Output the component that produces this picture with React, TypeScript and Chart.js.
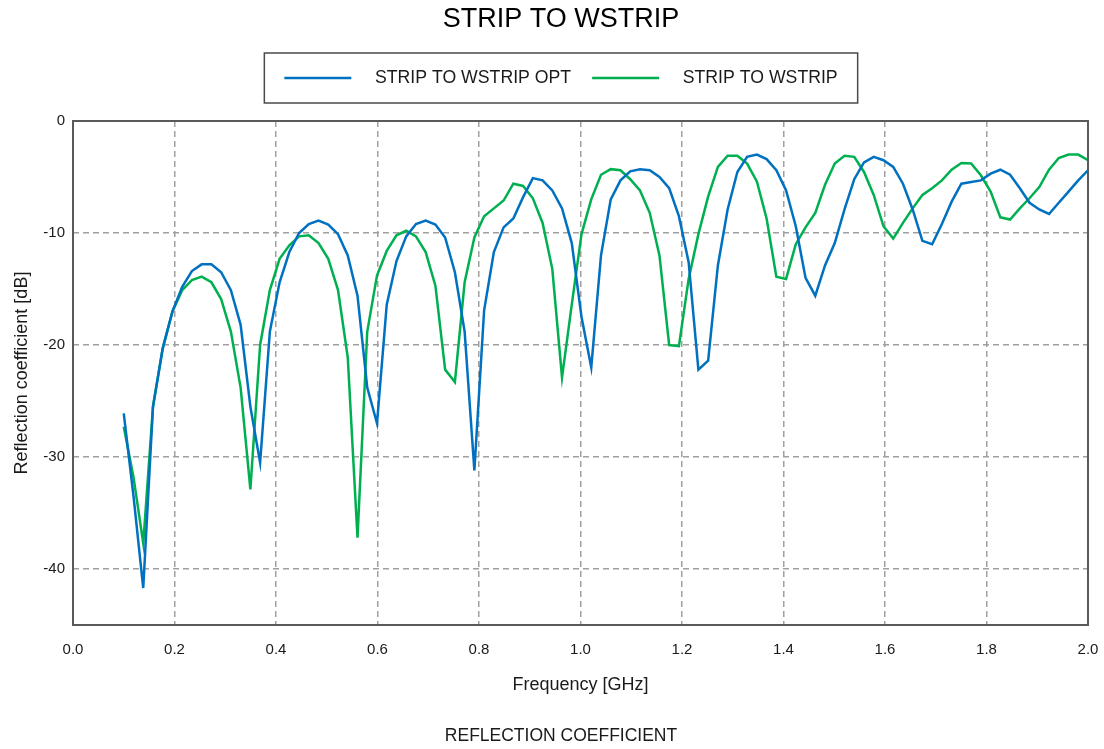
import { useEffect, useRef } from 'react';
import { Chart, registerables } from 'chart.js';

Chart.register(...registerables);

// Frequency sample grid (GHz)
const freqGHz = [
  0.1000, 0.1192, 0.1384, 0.1576, 0.1768, 0.1960, 0.2152, 0.2343, 0.2535, 0.2727,
  0.2919, 0.3111, 0.3303, 0.3495, 0.3687, 0.3879, 0.4071, 0.4263, 0.4455, 0.4646,
  0.4838, 0.5030, 0.5222, 0.5414, 0.5606, 0.5798, 0.5990, 0.6182, 0.6374, 0.6566,
  0.6758, 0.6949, 0.7141, 0.7333, 0.7525, 0.7717, 0.7909, 0.8101, 0.8293, 0.8485,
  0.8677, 0.8869, 0.9061, 0.9253, 0.9444, 0.9636, 0.9828, 1.0020, 1.0212, 1.0404,
  1.0596, 1.0788, 1.0980, 1.1172, 1.1364, 1.1556, 1.1747, 1.1939, 1.2131, 1.2323,
  1.2515, 1.2707, 1.2899, 1.3091, 1.3283, 1.3475, 1.3667, 1.3859, 1.4051, 1.4242,
  1.4434, 1.4626, 1.4818, 1.5010, 1.5202, 1.5394, 1.5586, 1.5778, 1.5970, 1.6162,
  1.6354, 1.6545, 1.6737, 1.6929, 1.7121, 1.7313, 1.7505, 1.7697, 1.7889, 1.8081,
  1.8273, 1.8465, 1.8657, 1.8848, 1.9040, 1.9232, 1.9424, 1.9616, 1.9808, 2.0000,
];

// STRIP TO WSTRIP OPT (dB)
const s11Opt = [
  -26.1, -33.5, -41.7, -25.5, -20.3, -17.0, -14.8, -13.4, -12.8, -12.8,
  -13.5, -15.1, -18.2, -25.5, -30.5, -18.8, -14.4, -11.7, -10.0, -9.2,
  -8.9, -9.25, -10.1, -12.0, -15.6, -23.8, -27.0, -16.4, -12.5, -10.3,
  -9.2, -8.9, -9.25, -10.4, -13.5, -18.8, -31.2, -16.9, -11.7, -9.5,
  -8.7, -6.8, -5.1, -5.3, -6.2, -7.8, -10.9, -17.5, -22.0, -12.0,
  -7.0, -5.3, -4.5, -4.3, -4.4, -5.0, -6.0, -8.5, -12.6, -22.2,
  -21.4, -12.9, -7.9, -4.55, -3.2, -3.0, -3.4, -4.4, -6.2, -9.4,
  -14.0, -15.6, -12.9, -10.9, -7.9, -5.2, -3.7, -3.2, -3.5, -4.1,
  -5.6, -7.9, -10.7, -11.0, -9.2, -7.2, -5.6, -5.45, -5.3, -4.7,
  -4.35, -4.8, -6.0, -7.3, -7.9, -8.3, -7.3, -6.3, -5.3, -4.4,
];

// STRIP TO WSTRIP (dB)
const s11 = [
  -27.3, -31.8, -37.7, -25.5, -20.3, -17.0, -15.1, -14.2, -13.9, -14.4,
  -15.9, -18.8, -23.8, -32.9, -20.0, -15.1, -12.3, -11.1, -10.3, -10.2,
  -10.9, -12.3, -15.1, -21.1, -37.2, -18.8, -13.8, -11.6, -10.2, -9.8,
  -10.3, -11.7, -14.7, -22.2, -23.3, -14.4, -10.4, -8.5, -7.8, -7.1,
  -5.6, -5.8, -6.9, -9.1, -13.2, -22.9, -16.4, -10.1, -7.0, -4.8,
  -4.3, -4.4, -5.2, -6.2, -8.2, -12.0, -20.0, -20.1, -14.1, -10.1,
  -6.75, -4.1, -3.1, -3.1, -3.8, -5.4, -8.7, -13.9, -14.1, -11.0,
  -9.5, -8.2, -5.7, -3.8, -3.1, -3.2, -4.55, -6.6, -9.4, -10.5,
  -9.1, -7.8, -6.6, -6.0, -5.3, -4.35, -3.75, -3.8, -4.85, -6.3,
  -8.6, -8.8, -7.8, -6.9, -5.9, -4.35, -3.3, -3.0, -3.0, -3.5,
];

const xTickValues = [0, 0.2, 0.4, 0.6, 0.8, 1.0, 1.2, 1.4, 1.6, 1.8, 2.0];
const yTickValues = [0, -10, -20, -30, -40];
const seriesLabels = ['STRIP TO WSTRIP OPT', 'STRIP TO WSTRIP'];
const seriesColors = ['#0070C0', '#00B050'];

const FONT = "'Liberation Sans', Arial, Helvetica, sans-serif";
const TEXT = '#1a1a1a';

const legendFrame = {
  id: 'legendFrame',
  afterDraw(chart: any) {
    const lg = chart.legend;
    if (!lg || !lg.legendHitBoxes || !lg.legendHitBoxes.length) return;
    const hb = lg.legendHitBoxes;
    const first = hb[0];
    const last = hb[hb.length - 1];
    const cy = first.top + first.height / 2;
    const left = first.left - 20;
    const right = last.left + last.width + 20;
    const ctx = chart.ctx;
    ctx.save();
    ctx.strokeStyle = '#4a4a4a';
    ctx.lineWidth = 1.5;
    ctx.strokeRect(left, cy - 25, right - left, 50);
    ctx.restore();
  },
};

const plotFrame = {
  id: 'plotFrame',
  afterDraw(chart: any) {
    const a = chart.chartArea;
    const ctx = chart.ctx;
    ctx.save();
    ctx.strokeStyle = '#5a5a5a';
    ctx.lineWidth = 2;
    ctx.strokeRect(a.left, a.top, a.right - a.left, a.bottom - a.top);
    ctx.restore();
  },
};

export default function App() {
  const ref = useRef<HTMLCanvasElement | null>(null);

  useEffect(() => {
    if (!ref.current) return;
    const chart = new Chart(ref.current, {
      type: 'line',
      data: {
        datasets: [
          {
            label: seriesLabels[0],
            data: freqGHz.map((f, i) => ({ x: f, y: s11Opt[i] })),
            borderColor: seriesColors[0],
            backgroundColor: seriesColors[0],
            borderWidth: 2.5,
            pointRadius: 0,
            tension: 0,
          },
          {
            label: seriesLabels[1],
            data: freqGHz.map((f, i) => ({ x: f, y: s11[i] })),
            borderColor: seriesColors[1],
            backgroundColor: seriesColors[1],
            borderWidth: 2.5,
            pointRadius: 0,
            tension: 0,
          },
        ],
      },
      options: {
        responsive: false,
        animation: false,
        devicePixelRatio: 1,
        layout: { padding: { left: 34, right: 16, top: 0, bottom: 0 } },
        plugins: {
          title: {
            display: true,
            text: 'STRIP TO WSTRIP',
            color: '#000',
            font: { family: FONT, size: 27, weight: 'normal' },
            padding: { top: 3, bottom: 12.75 },
          },
          subtitle: {
            display: true,
            text: 'REFLECTION COEFFICIENT',
            position: 'bottom',
            color: TEXT,
            font: { family: FONT, size: 17.5, weight: 'normal' },
            padding: { top: 29.7, bottom: 2 },
          },
          legend: {
            display: true,
            position: 'top',
            labels: {
              color: TEXT,
              font: { family: FONT, size: 17.7 },
              boxWidth: 67,
              boxHeight: 2.5,
              padding: 21,
              generateLabels(chart: any) {
                const items = (Chart.defaults as any).plugins.legend.labels.generateLabels(chart);
                return items.map((it: any) => ({
                  ...it,
                  text: '   ' + it.text,
                  fillStyle: it.strokeStyle,
                  lineWidth: 0,
                }));
              },
            },
          },
          tooltip: { enabled: false },
        },
        scales: {
          x: {
            type: 'linear',
            min: 0,
            max: 2,
            afterBuildTicks(axis: any) {
              axis.ticks = xTickValues.map((v) => ({ value: v }));
            },
            ticks: {
              color: TEXT,
              font: { family: FONT, size: 15 },
              padding: 4,
              maxRotation: 0,
              callback: (v: any) => Number(v).toFixed(1),
            },
            grid: {
              color: '#a0a0a0',
              lineWidth: 1.5,
              drawTicks: true,
              tickLength: 12,
              tickWidth: 0,
              tickColor: 'rgba(0,0,0,0)',
            },
            border: { display: false, dash: [6, 4] },
            title: {
              display: true,
              text: 'Frequency [GHz]',
              color: TEXT,
              font: { family: FONT, size: 18 },
              padding: { top: 11.7, bottom: 0 },
            },
          },
          xTop: {
            type: 'linear',
            position: 'top',
            display: true,
            grid: { display: false, drawTicks: false },
            border: { display: false },
            ticks: { display: false },
            afterFit(s: any) {
              s.height = 24.15;
            },
          },
          y: {
            type: 'linear',
            min: -45,
            max: 0,
            afterBuildTicks(axis: any) {
              axis.ticks = yTickValues.map((v) => ({ value: v }));
            },
            afterFit(s: any) {
              s.width = 39;
            },
            ticks: {
              color: TEXT,
              font: { family: FONT, size: 15 },
              padding: 8,
              callback: (v: any) => String(v),
            },
            grid: { color: '#a0a0a0', lineWidth: 1.5, drawTicks: false },
            border: { display: false, dash: [6, 4] },
            title: {
              display: true,
              text: 'Reflection coefficient [dB]',
              color: TEXT,
              font: { family: FONT, size: 18 },
              padding: { top: -22.8, bottom: 0 },
            },
          },
        },
      } as any,
      plugins: [legendFrame, plotFrame],
    });
    return () => chart.destroy();
  }, []);

  return (
    <div style={{ position: 'fixed', left: 0, top: 0, width: 1104, height: 749, background: '#fff' }}>
      <canvas ref={ref} width={1104} height={749} style={{ display: 'block' }} />
    </div>
  );
}
